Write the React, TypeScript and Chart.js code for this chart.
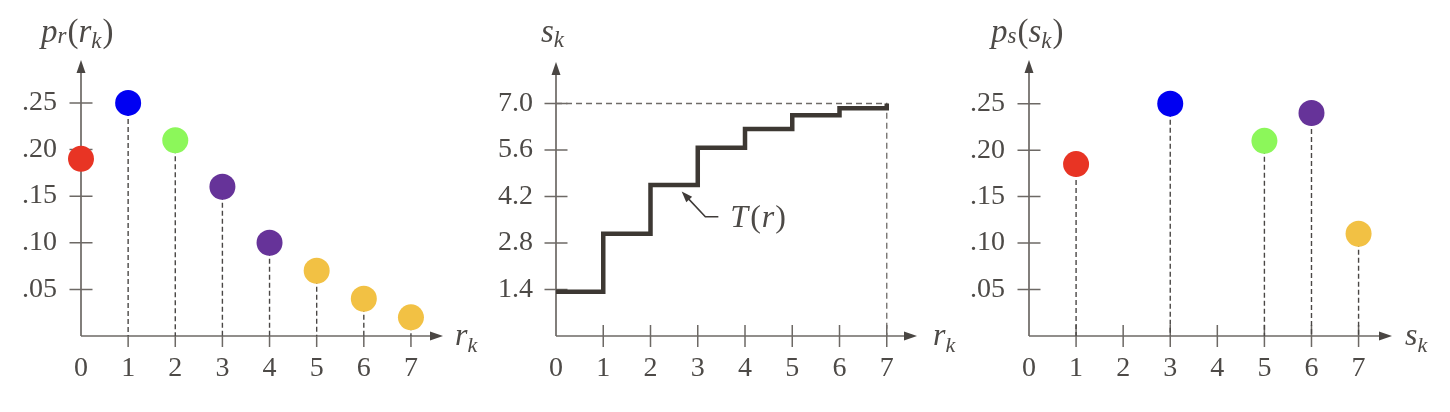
import React, { useEffect, useRef } from "react";
import { Chart, registerables } from "chart.js";

Chart.register(...registerables);

// ---------------- data ----------------
const levels = [0, 1, 2, 3, 4, 5, 6, 7];
const levelTickLabels = ["0", "1", "2", "3", "4", "5", "6", "7"];

const prValues = [0.19, 0.25, 0.21, 0.16, 0.1, 0.07, 0.04, 0.02];
const prColors = ["#e83424", "#0000f2", "#8cf75a", "#663399", "#663399", "#f2c144", "#f2c144", "#f2c144"];

const skValues = [1.33, 3.08, 4.55, 5.67, 6.23, 6.65, 6.86, 7.0];
const skReference = 7.0;

const psLevels = [1, 3, 5, 6, 7];
const psValues = [0.185, 0.25, 0.21, 0.24, 0.11];
const psColors = ["#e83424", "#0000f2", "#8cf75a", "#663399", "#f2c144"];

const probTicks = [0.05, 0.1, 0.15, 0.2, 0.25];
const probTickLabels = [".05", ".10", ".15", ".20", ".25"];
const skTicks = [1.4, 2.8, 4.2, 5.6, 7.0];
const skTickLabels = ["1.4", "2.8", "4.2", "5.6", "7.0"];

const curveLabel = "T(r)";
const curveLabelAnchor = { x: 3.69, y: 3.28 };
const curveArrowTip = { x: 2.66, y: 4.35 };

// ---------------- styling ----------------
const SERIF = "'Liberation Serif', 'Times New Roman', serif";
const TEXT = "#4d4a47";
const AXIS = "#6d6965";
const DARK = "#3d3833";

type Part = { t: string; it?: boolean; s: number; dy?: number; dx?: number };

function drawMath(ctx: CanvasRenderingContext2D, x: number, y: number, parts: Part[]) {
  let cx = x;
  ctx.save();
  ctx.fillStyle = TEXT;
  ctx.textBaseline = "alphabetic";
  ctx.textAlign = "left";
  for (const p of parts) {
    ctx.font = `${p.it ? "italic " : ""}${p.s}px ${SERIF}`;
    cx += p.dx || 0;
    ctx.fillText(p.t, cx, y + (p.dy || 0));
    cx += ctx.measureText(p.t).width;
  }
  ctx.restore();
}

function arrowHead(ctx: CanvasRenderingContext2D, tx: number, ty: number, ang: number, len: number, half: number) {
  const c = Math.cos(ang), s = Math.sin(ang);
  ctx.beginPath();
  ctx.moveTo(tx, ty);
  ctx.lineTo(tx - len * c - half * s, ty - len * s + half * c);
  ctx.lineTo(tx - len * c + half * s, ty - len * s - half * c);
  ctx.closePath();
  ctx.fill();
}

type Spec = {
  left: number;
  width: number;
  axisX: number;
  top: number;
  rightPad: number;
  xMax: number;
  yMax: number;
  yTicks: number[];
  yTickLabels: string[];
  yLabelPad: number;
  xTickAbove: number;
  yLabel: { x: number; y: number; parts: Part[] };
  xLabel: { dx: number; y: number; parts: Part[] };
  datasets: any[];
  stems: boolean;
  extra?: (chart: any) => void;
};

function makeConfig(spec: Spec): any {
  const decoPlugin = {
    id: "deco",
    beforeDatasetsDraw(chart: any) {
      const { ctx, chartArea } = chart;
      const xs = chart.scales.x;
      const ys = chart.scales.y;
      const x0 = xs.getPixelForValue(0);
      const y0 = ys.getPixelForValue(0);
      ctx.save();
      // axes
      ctx.strokeStyle = AXIS;
      ctx.lineWidth = 1.7;
      ctx.beginPath();
      ctx.moveTo(x0, y0);
      ctx.lineTo(chartArea.right - 6, y0);
      ctx.moveTo(x0, y0);
      ctx.lineTo(x0, chartArea.top + 6);
      ctx.stroke();
      ctx.fillStyle = "#4a4643";
      arrowHead(ctx, chartArea.right, y0, 0, 13, 4.5);
      arrowHead(ctx, x0, chartArea.top, -Math.PI / 2, 13, 4.5);
      // tick marks
      ctx.lineWidth = 1.5;
      ctx.beginPath();
      for (const v of levels) {
        if (v === 0) continue;
        const px = xs.getPixelForValue(v);
        ctx.moveTo(px, y0 - spec.xTickAbove);
        ctx.lineTo(px, y0 + 11);
      }
      for (const v of spec.yTicks) {
        const py = ys.getPixelForValue(v);
        ctx.moveTo(x0 - 11.5, py);
        ctx.lineTo(x0 + 11.5, py);
      }
      ctx.stroke();
      // stems
      if (spec.stems) {
        const meta = chart.getDatasetMeta(0);
        ctx.strokeStyle = "#4a4745";
        ctx.lineWidth = 1.4;
        ctx.setLineDash([5, 3]);
        ctx.beginPath();
        for (const el of meta.data) {
          if (Math.abs(el.x - x0) < 1) continue;
          ctx.moveTo(el.x, el.y);
          ctx.lineTo(el.x, y0);
        }
        ctx.stroke();
        ctx.setLineDash([]);
      }
      ctx.restore();
      drawMath(ctx, spec.yLabel.x, spec.yLabel.y, spec.yLabel.parts);
      drawMath(ctx, chartArea.right + spec.xLabel.dx, spec.xLabel.y, spec.xLabel.parts);
    },
    afterDatasetsDraw(chart: any) {
      if (spec.extra) spec.extra(chart);
    },
  };

  return {
    type: "scatter",
    data: { datasets: spec.datasets },
    options: {
      responsive: false,
      animation: false,
      events: [],
      layout: { padding: { left: 0, top: spec.top, right: spec.rightPad, bottom: 0 } },
      plugins: { legend: { display: false }, tooltip: { enabled: false }, title: { display: false } },
      scales: {
        x: {
          type: "linear",
          min: 0,
          max: spec.xMax,
          grid: { display: false, drawTicks: false },
          border: { display: false },
          afterBuildTicks: (s: any) => {
            s.ticks = levels.map((v) => ({ value: v }));
          },
          afterFit: (s: any) => {
            s.height = 412 - 336;
          },
          ticks: {
            autoSkip: false,
            maxRotation: 0,
            padding: 16,
            color: TEXT,
            font: { family: SERIF, size: 28 },
            callback: (_v: any, i: number) => levelTickLabels[i],
          },
        },
        y: {
          type: "linear",
          min: 0,
          max: spec.yMax,
          grid: { display: false, drawTicks: false },
          border: { display: false },
          afterBuildTicks: (s: any) => {
            s.ticks = spec.yTicks.map((v) => ({ value: v }));
          },
          afterFit: (s: any) => {
            s.width = spec.axisX;
          },
          ticks: {
            padding: spec.yLabelPad,
            color: TEXT,
            font: { family: SERIF, size: 28 },
            callback: (_v: any, i: number) => spec.yTickLabels[i],
          },
        },
      },
    },
    plugins: [decoPlugin],
  };
}

const dotStyle = { pointRadius: 13, pointBorderWidth: 0, showLine: false, clip: false };

const panel1: Spec = {
  left: 0,
  width: 480,
  axisX: 81,
  top: 60,
  rightPad: 37,
  xMax: 7.68,
  yMax: 0.296,
  yTicks: probTicks,
  yTickLabels: probTickLabels,
  yLabelPad: 24,
  xTickAbove: 0,
  yLabel: {
    x: 41,
    y: 42,
    parts: [
      { t: "p", it: true, s: 33 },
      { t: "r", it: true, s: 23, dy: 1 },
      { t: "(", s: 33, dx: 1 },
      { t: "r", it: true, s: 33 },
      { t: "k", it: true, s: 23, dy: 6 },
      { t: ")", s: 33, dx: 1 },
    ],
  },
  xLabel: { dx: 12, y: 345, parts: [{ t: "r", it: true, s: 32 }, { t: "k", it: true, s: 22, dy: 7 }] },
  datasets: [
    {
      data: levels.map((r, i) => ({ x: r, y: prValues[i] })),
      pointBackgroundColor: prColors,
      ...dotStyle,
    },
  ],
  stems: true,
};

const panel2: Spec = {
  left: 480,
  width: 480,
  axisX: 76,
  top: 62,
  rightPad: 43,
  xMax: 7.64,
  yMax: 8.25,
  yTicks: skTicks,
  yTickLabels: skTickLabels,
  yLabelPad: 23,
  xTickAbove: 11,
  yLabel: { x: 61, y: 42, parts: [{ t: "s", it: true, s: 33 }, { t: "k", it: true, s: 23, dy: 5 }] },
  xLabel: { dx: 16, y: 345, parts: [{ t: "r", it: true, s: 32 }, { t: "k", it: true, s: 22, dy: 7 }] },
  datasets: [
    {
      data: levels.map((r, i) => ({ x: r, y: skValues[i] })),
      showLine: true,
      stepped: true,
      borderColor: DARK,
      borderWidth: 4.5,
      pointRadius: 0,
      clip: false,
    },
    {
      data: [
        { x: 0, y: skReference },
        { x: levels[levels.length - 1], y: skReference },
        { x: levels[levels.length - 1], y: 0 },
      ],
      showLine: true,
      borderColor: "#6f6b68",
      borderWidth: 1.3,
      borderDash: [6, 4],
      pointRadius: 0,
      clip: false,
    },
  ],
  stems: false,
  extra: (chart: any) => {
    const { ctx } = chart;
    const xs = chart.scales.x;
    const ys = chart.scales.y;
    const tx = xs.getPixelForValue(curveLabelAnchor.x);
    const ty = ys.getPixelForValue(curveLabelAnchor.y);
    const ax = xs.getPixelForValue(curveArrowTip.x);
    const ay = ys.getPixelForValue(curveArrowTip.y);
    drawMath(ctx, tx, ty, [
      { t: curveLabel[0], it: true, s: 32 },
      { t: "(", s: 32, dx: 2 },
      { t: "r", it: true, s: 32, dx: 1 },
      { t: ")", s: 32, dx: 1 },
    ]);
    ctx.save();
    ctx.strokeStyle = "#3f3b38";
    ctx.fillStyle = "#3f3b38";
    ctx.lineWidth = 1.6;
    const p1x = tx - 12, p1y = ty - 10.3;
    const p2x = tx - 25, p2y = ty - 10.3;
    ctx.beginPath();
    ctx.moveTo(p1x, p1y);
    ctx.lineTo(p2x, p2y);
    const ang = Math.atan2(ay - p2y, ax - p2x);
    ctx.lineTo(ax - 8 * Math.cos(ang), ay - 8 * Math.sin(ang));
    ctx.stroke();
    arrowHead(ctx, ax, ay, ang, 11, 4);
    ctx.restore();
  },
};

const panel3: Spec = {
  left: 960,
  width: 490,
  axisX: 69,
  top: 60,
  rightPad: 58,
  xMax: 7.71,
  yMax: 0.297,
  yTicks: probTicks,
  yTickLabels: probTickLabels,
  yLabelPad: 24,
  xTickAbove: 11,
  yLabel: {
    x: 31,
    y: 42,
    parts: [
      { t: "p", it: true, s: 33 },
      { t: "s", it: true, s: 23, dy: 1 },
      { t: "(", s: 33, dx: 1 },
      { t: "s", it: true, s: 33 },
      { t: "k", it: true, s: 23, dy: 6 },
      { t: ")", s: 33, dx: 1 },
    ],
  },
  xLabel: { dx: 13, y: 345, parts: [{ t: "s", it: true, s: 32 }, { t: "k", it: true, s: 22, dy: 7 }] },
  datasets: [
    {
      data: psLevels.map((s, i) => ({ x: s, y: psValues[i] })),
      pointBackgroundColor: psColors,
      ...dotStyle,
    },
  ],
  stems: true,
};

function Panel({ spec }: { spec: Spec }) {
  const ref = useRef<HTMLCanvasElement>(null);
  useEffect(() => {
    const chart = new Chart(ref.current as HTMLCanvasElement, makeConfig(spec));
    return () => chart.destroy();
  }, []);
  return (
    <canvas
      ref={ref}
      width={spec.width}
      height={412}
      style={{ position: "absolute", left: spec.left, top: 0, width: spec.width, height: 412 }}
    />
  );
}

export default function App() {
  return (
    <div style={{ position: "absolute", left: 0, top: 0, width: 1450, height: 412, background: "#ffffff" }}>
      <Panel spec={panel1} />
      <Panel spec={panel2} />
      <Panel spec={panel3} />
    </div>
  );
}
